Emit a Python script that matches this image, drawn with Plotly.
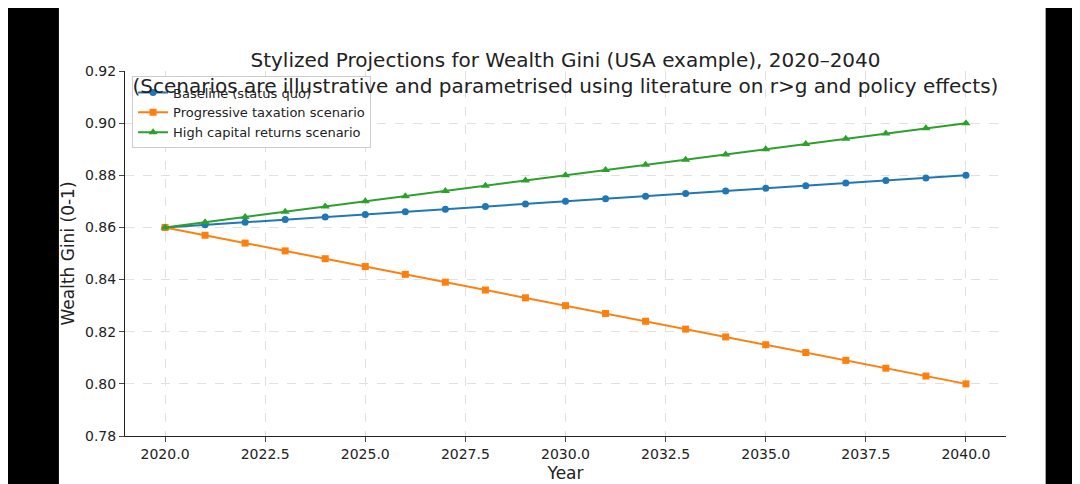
import plotly.graph_objects as go

years = list(range(2020, 2041))
baseline = [0.860, 0.861, 0.862, 0.863, 0.864, 0.865, 0.866, 0.867, 0.868, 0.869, 0.870,
            0.871, 0.872, 0.873, 0.874, 0.875, 0.876, 0.877, 0.878, 0.879, 0.880]
progressive = [0.860, 0.857, 0.854, 0.851, 0.848, 0.845, 0.842, 0.839, 0.836, 0.833, 0.830,
               0.827, 0.824, 0.821, 0.818, 0.815, 0.812, 0.809, 0.806, 0.803, 0.800]
high_returns = [0.860, 0.862, 0.864, 0.866, 0.868, 0.870, 0.872, 0.874, 0.876, 0.878, 0.880,
                0.882, 0.884, 0.886, 0.888, 0.890, 0.892, 0.894, 0.896, 0.898, 0.900]

fig = go.Figure()
fig.add_trace(go.Scatter(x=years, y=baseline, name="Baseline (status quo)", mode="lines+markers",
                         line=dict(color="#1f77b4", width=2), marker=dict(symbol="circle", size=7)))
fig.add_trace(go.Scatter(x=years, y=progressive, name="Progressive taxation scenario", mode="lines+markers",
                         line=dict(color="#ff7f0e", width=2), marker=dict(symbol="square", size=7)))
fig.add_trace(go.Scatter(x=years, y=high_returns, name="High capital returns scenario", mode="lines+markers",
                         line=dict(color="#2ca02c", width=2), marker=dict(symbol="triangle-up", size=8)))

# white page on black side bars
fig.add_shape(type="rect", xref="paper", yref="paper", x0=-0.075, x1=1.045, y0=-0.2, y1=1.25,
              fillcolor="white", line_width=0, layer="below")

fig.update_layout(
    width=1080, height=484,
    paper_bgcolor="black", plot_bgcolor="white",
    margin=dict(l=117, r=82, t=63, b=54),
    font=dict(family="DejaVu Sans", size=14, color="#222"),
    title=dict(text="Stylized Projections for Wealth Gini (USA example), 2020–2040<br>"
                    "(Scenarios are illustrative and parametrised using literature on r>g and policy effects)",
               x=0.5, xanchor="center", xref="paper", yref="paper", y=1.0, yanchor="bottom",
               pad=dict(b=4), font=dict(size=20)),
    legend=dict(x=0.008, y=0.985, xanchor="left", yanchor="top", bgcolor="white",
                bordercolor="#ccc", borderwidth=1, font=dict(size=13)),
    xaxis=dict(title=dict(text="Year", standoff=6), range=[2019, 2041],
               tickvals=[2020, 2022.5, 2025, 2027.5, 2030, 2032.5, 2035, 2037.5, 2040],
               tickformat=".1f", showgrid=True, gridcolor="#e0e0e0", griddash="dash",
               showline=True, linecolor="#222", ticks="outside", zeroline=False),
    yaxis=dict(title=dict(text="Wealth Gini (0-1)", standoff=6), range=[0.78, 0.92], dtick=0.02, tickformat=".2f",
               showgrid=True, gridcolor="#e0e0e0", griddash="dash",
               showline=True, linecolor="#222", ticks="outside", zeroline=False),
)

fig.write_html("out.html")
